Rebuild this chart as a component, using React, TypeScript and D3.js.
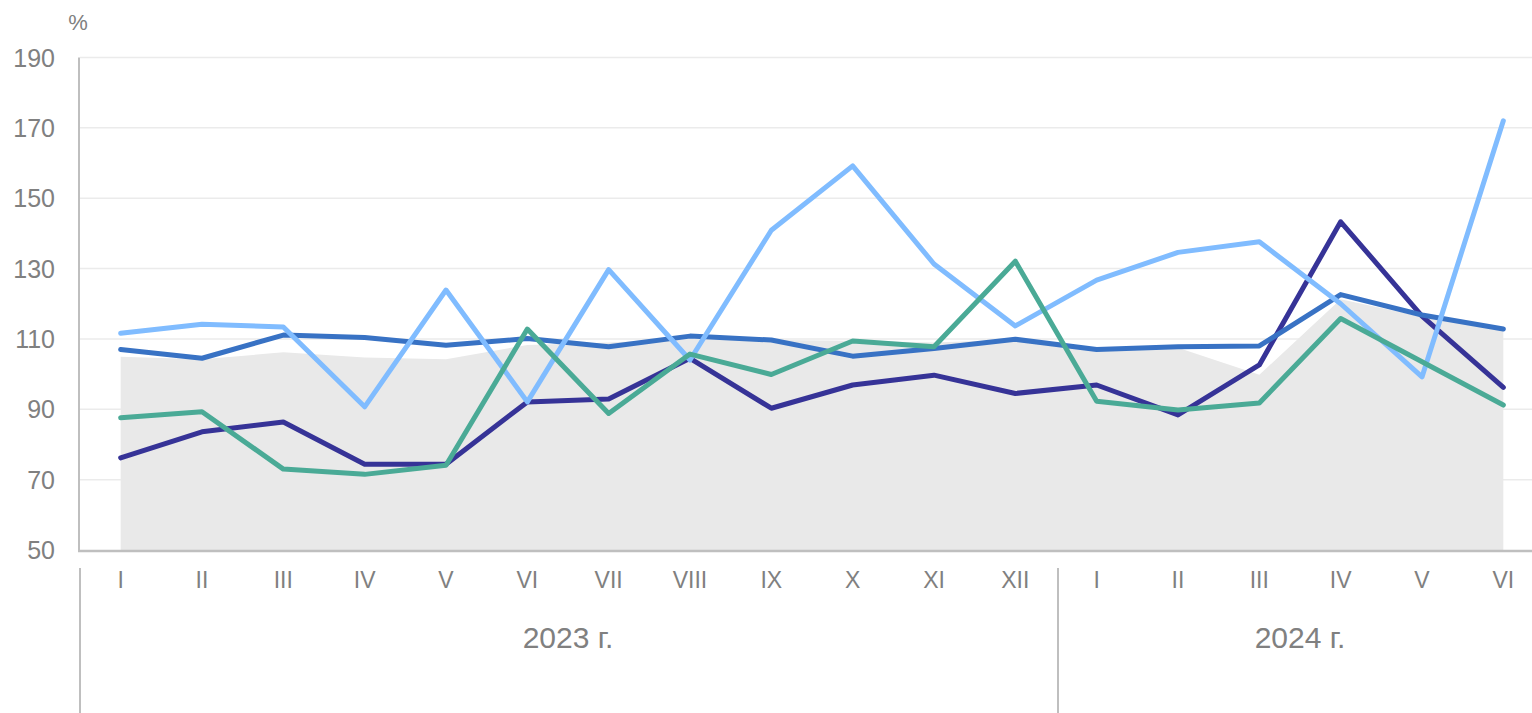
import React from 'react';
import * as d3 from 'd3';

const months = ['I', 'II', 'III', 'IV', 'V', 'VI', 'VII', 'VIII', 'IX', 'X', 'XI', 'XII', 'I', 'II', 'III', 'IV', 'V', 'VI'];
const years = [
  { label: '2023 г.', from: 0, to: 12 },
  { label: '2024 г.', from: 12, to: 18 },
];
const yTicks = [50, 70, 90, 110, 130, 150, 170, 190];

// grey background area
const areaValues = [104.9, 104.2, 106.2, 104.7, 104.2, 108.3, 109.0, 110.0, 109.7, 109.5, 109.0, 109.8, 107.5, 107.5, 99.8, 121.3, 116.3, 112.5];

const navy = [76.2, 83.6, 86.4, 74.4, 74.4, 92.1, 92.9, 104.5, 90.3, 96.9, 99.7, 94.5, 96.9, 88.4, 102.6, 143.3, 116.5, 96.2];
const blue = [107.0, 104.5, 111.1, 110.4, 108.2, 110.1, 107.8, 110.8, 109.7, 105.1, 107.3, 109.9, 107.0, 107.8, 108.0, 122.6, 116.8, 112.8];
const lightBlue = [111.6, 114.2, 113.4, 90.7, 123.9, 92.1, 129.7, 104.0, 140.9, 159.2, 131.3, 113.7, 126.7, 134.6, 137.6, 120.0, 99.2, 172.0];
const green = [87.6, 89.3, 73.0, 71.5, 74.1, 112.8, 88.8, 105.7, 99.9, 109.4, 107.8, 132.1, 92.3, 89.8, 91.8, 115.8, 103.5, 91.2];

const series = [
  { name: 'navy', values: navy, color: '#363397' },
  { name: 'blue', values: blue, color: '#3872c4' },
  { name: 'lightBlue', values: lightBlue, color: '#80bcff' },
  { name: 'green', values: green, color: '#4aaa96' },
];

const W = 1532;
const H = 713;
const left = 80;
const top = 57.5;
const bottom = 550;

export default function App() {
  const idx = months.map((_, i) => i);
  const x = d3.scaleBand<number>().domain(idx).range([left, 1544]);
  const cx = (i: number) => (x(i) as number) + x.bandwidth() / 2;
  const y = d3.scaleLinear().domain([50, 190]).range([bottom, top]);

  const line = d3.line<number>().x((_, i) => cx(i)).y(d => y(d));
  const area = d3.area<number>().x((_, i) => cx(i)).y0(y(50)).y1(d => y(d));

  const font = '"Liberation Sans", Arial, sans-serif';
  const grey = '#808080';

  return (
    <svg width={W} height={H} style={{ position: 'absolute', left: 0, top: 0 }} fontFamily={font}>
      {yTicks.map(t => (
        <g key={t}>
          {t > 50 && <line x1={left} x2={W} y1={y(t)} y2={y(t)} stroke="#ebebeb" strokeWidth={1.5} />}
          <text x={55} y={y(t) + 9} textAnchor="end" fontSize={25} fill={grey}>{t}</text>
        </g>
      ))}
      <text x={78} y={30} textAnchor="middle" fontSize={22} fill={grey}>%</text>

      <path d={area(areaValues) || ''} fill="#e9e9e9" />

      {series.map(s => (
        <path key={s.name} d={line(s.values) || ''} fill="none" stroke={s.color} strokeWidth={5}
          strokeLinecap="round" strokeLinejoin="round" />
      ))}

      <line x1={left - 1} x2={left - 1} y1={top} y2={bottom + 1} stroke="#bfbfbf" strokeWidth={2} />
      <line x1={left - 2} x2={W} y1={bottom + 1} y2={bottom + 1} stroke="#bfbfbf" strokeWidth={2.5} />

      {months.map((m, i) => (
        <text key={i} x={cx(i)} y={588} textAnchor="middle" fontSize={23} fill={grey}>{m}</text>
      ))}

      {years.map(yr => {
        const x0 = x(yr.from) as number;
        const x1 = yr.to < months.length ? (x(yr.to) as number) : 1544;
        const sx = yr.from > 0 ? x0 + 2 : x0;
        return (
          <g key={yr.label}>
            <line x1={sx} x2={sx} y1={568} y2={H} stroke="#bfbfbf" strokeWidth={2} />
            <text x={(x0 + x1) / 2} y={648} textAnchor="middle" fontSize={30} fill={grey}>{yr.label}</text>
          </g>
        );
      })}
    </svg>
  );
}
